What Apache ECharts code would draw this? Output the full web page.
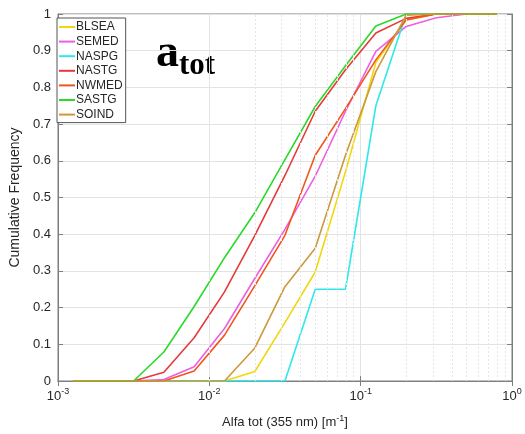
<!DOCTYPE html>
<html>
<head>
<meta charset="utf-8">
<script src="https://cdn.jsdelivr.net/npm/echarts@6/dist/echarts.min.js"></script>
<style>
  html, body { margin: 0; padding: 0; background: #fff; }
  #chart { width: 525px; height: 434px; }
</style>
</head>
<body>
<div id="chart"></div>
<script>
  // bin positions (m^-1)
  const alfa = [0.00126, 0.002, 0.00316, 0.00501, 0.00794, 0.0126, 0.02, 0.0316,
    0.0501, 0.0794, 0.126, 0.2, 0.316, 0.501, 0.794]

  const names = ['BLSEA', 'SEMED', 'NASPG', 'NASTG', 'NWMED', 'SASTG', 'SOIND']
  const colors = ['#f2d70f', '#ee5ee0', '#2ee8ec', '#e63a3a', '#f0561c', '#2ad92a', '#cc993c']

  const blsea = [0, 0, 0, 0, 0, 0, 0.026, 0.159, 0.297, 0.57, 0.868, 0.984, 1, 1, 1]
  const semed = [0, 0, 0, 0.004, 0.039, 0.143, 0.28, 0.413, 0.558, 0.735, 0.898, 0.966, 0.99, 1, 1]
  const naspg = [0, 0, 0, 0, 0, 0, 0, 0, 0.25, 0.25, 0.75, 1, 1, 1, 1]
  const nastg = [0, 0, 0, 0.024, 0.118, 0.243, 0.397, 0.56, 0.735, 0.848, 0.948, 0.988, 1, 1, 1]
  const nwmed = [0, 0, 0, 0, 0.027, 0.125, 0.26, 0.397, 0.615, 0.742, 0.875, 0.984, 1, 1, 1]
  const sastg = [0, 0, 0, 0.079, 0.203, 0.336, 0.459, 0.603, 0.748, 0.859, 0.967, 1, 1, 1, 1]
  const soind = [0, 0, 0, 0, 0, 0, 0.09, 0.257, 0.362, 0.615, 0.843, 0.997, 1, 1, 1]
  const values = [blsea, semed, naspg, nastg, nwmed, sastg, soind]

  const yTicks = ['0', '0.1', '0.2', '0.3', '0.4', '0.5', '0.6', '0.7', '0.8', '0.9', '1']
  const minorX = [0.002, 0.003, 0.004, 0.005, 0.006, 0.007, 0.008, 0.009,
    0.02, 0.03, 0.04, 0.05, 0.06, 0.07, 0.08, 0.09,
    0.2, 0.3, 0.4, 0.5, 0.6, 0.7, 0.8, 0.9]

  const font = 'Liberation Sans, Arial, sans-serif'
  const serif = 'Liberation Serif, Times New Roman, serif'
  const ink = '#262626'
  const chart = echarts.init(document.getElementById('chart'))

  const series = names.map((n, i) => ({
    name: n,
    type: 'line',
    data: alfa.map((x, j) => [x, values[i][j]]),
    showSymbol: false,
    lineStyle: { color: colors[i], width: 1.6 },
    itemStyle: { color: colors[i] },
    z: 3,
    animation: false
  }))

  // minor (dotted) log grid lines
  series.unshift({
    name: 'minor',
    type: 'line',
    data: [],
    z: 1,
    silent: true,
    markLine: {
      silent: true,
      symbol: 'none',
      label: { show: false },
      lineStyle: { color: '#e6e6e6', type: [2, 2], width: 1 },
      data: minorX.map(v => ({ xAxis: v }))
    }
  })

  const sup = v => '{b|10}{s|' + Math.round(Math.log10(v)) + '}'

  chart.setOption({
    animation: false,
    grid: { left: 53, right: 13, top: 14, bottom: 52, show: true, borderColor: '#7f7f7f', borderWidth: 1 },
    legend: {
      data: names,
      orient: 'vertical',
      left: 57,
      top: 18,
      icon: 'rect',
      itemWidth: 16,
      itemHeight: 2,
      itemGap: 2.6,
      padding: [3, 3, 2, 2],
      backgroundColor: '#fff',
      borderColor: '#555',
      borderWidth: 1,
      textStyle: { fontFamily: font, fontSize: 12, color: ink, lineHeight: 12, padding: [0, 0, 0, -4] }
    },
    xAxis: [{
      type: 'log',
      logBase: 10,
      min: 0.001,
      max: 1,
      name: 'Alfa tot (355 nm) [m{s|-1}]',
      nameLocation: 'middle',
      nameGap: 33,
      nameTextStyle: {
        fontFamily: font, fontSize: 13, color: ink,
        rich: { s: { fontFamily: font, fontSize: 9, color: ink, padding: [0, 0, 8, 0] } }
      },
      axisLine: { lineStyle: { color: '#7f7f7f' } },
      axisTick: { inside: true, length: 5, lineStyle: { color: '#7f7f7f' } },
      splitLine: { show: true, lineStyle: { color: '#e3e3e3' } },
      axisLabel: {
        formatter: sup,
        margin: 6,
        rich: {
          b: { fontFamily: font, fontSize: 13, color: ink },
          s: { fontFamily: font, fontSize: 9, color: ink, padding: [0, 0, 9, 0] }
        }
      }
    }, {
      type: 'log', logBase: 10, min: 0.001, max: 1, position: 'top',
      axisLine: { lineStyle: { color: '#7f7f7f' } },
      axisTick: { inside: true, length: 5, lineStyle: { color: '#7f7f7f' } },
      axisLabel: { show: false }, splitLine: { show: false }
    }],
    yAxis: [{
      type: 'value',
      min: 0,
      max: 1,
      interval: 0.1,
      name: 'Cumulative Frequency',
      nameLocation: 'middle',
      nameGap: 28,
      nameTextStyle: { fontFamily: font, fontSize: 14, color: ink },
      axisLine: { show: true, lineStyle: { color: '#7f7f7f' } },
      axisTick: { show: true, inside: true, length: 5, lineStyle: { color: '#7f7f7f' } },
      splitLine: { show: true, lineStyle: { color: '#e3e3e3' } },
      axisLabel: {
        fontFamily: font, fontSize: 13, color: ink, margin: 7,
        formatter: v => yTicks[Math.round(v * 10)]
      }
    }, {
      type: 'value', min: 0, max: 1, interval: 0.1, position: 'right',
      axisLine: { show: true, lineStyle: { color: '#7f7f7f' } },
      axisTick: { show: true, inside: true, length: 5, lineStyle: { color: '#7f7f7f' } },
      axisLabel: { show: false }, splitLine: { show: false }
    }],
    graphic: [
      { type: 'text', left: 156, top: 31, style: { text: 'a', fontFamily: serif, fontWeight: 'bold', fontSize: 46, fill: '#000' } },
      { type: 'text', left: 179, top: 50, style: { text: 'tot', fontFamily: serif, fontWeight: 'bold', fontSize: 31, fill: '#000' } }
    ],
    series: series
  })
</script>
</body>
</html>
